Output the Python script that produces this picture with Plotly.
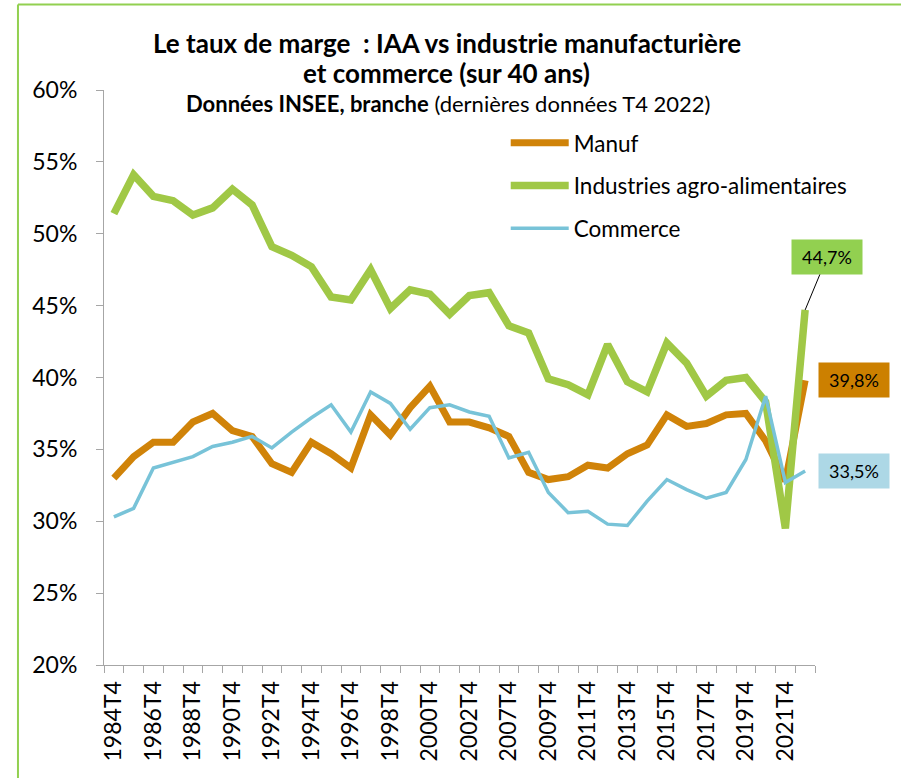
import plotly.graph_objects as go

# ---- data -------------------------------------------------------------
categories = [f"{y}T4" for y in range(1984, 2004)] + [f"{y}T4" for y in range(2007, 2023)]

manuf = [33.0, 34.5, 35.5, 35.5, 36.9, 37.5, 36.3, 35.9, 34.0, 33.4,
         35.5, 34.7, 33.7, 37.4, 36.0, 37.9, 39.4, 36.9, 36.9, 36.5,
         35.9, 33.4, 32.9, 33.1, 33.9, 33.7, 34.7, 35.3, 37.4, 36.6,
         36.8, 37.4, 37.5, 35.6, 32.8, 39.8]

iaa = [51.4, 54.1, 52.6, 52.3, 51.3, 51.8, 53.1, 52.0, 49.1, 48.5,
       47.7, 45.6, 45.4, 47.5, 44.8, 46.1, 45.8, 44.4, 45.7, 45.9,
       43.6, 43.1, 39.9, 39.5, 38.8, 42.3, 39.7, 39.0, 42.4, 41.0,
       38.7, 39.8, 40.0, 38.3, 29.5, 44.7]

commerce = [30.3, 30.9, 33.7, 34.1, 34.5, 35.2, 35.5, 35.9, 35.1, 36.2,
            37.2, 38.1, 36.2, 39.0, 38.2, 36.4, 37.9, 38.1, 37.6, 37.3,
            34.4, 34.8, 32.0, 30.6, 30.7, 29.8, 29.7, 31.4, 32.9, 32.2,
            31.6, 32.0, 34.3, 38.7, 32.7, 33.5]

tick_text = [c if i % 2 == 0 and i < 35 else "" for i, c in enumerate(categories)]

series_names = ["Manuf", "Industries agro-alimentaires", "Commerce"]
series_colors = ["#D08309", "#A0C846", "#78C3D8"]
label_bg = ["#CC8000", "#92D050", "#ADD8E6"]

FONT = "Lato, 'Open Sans', sans-serif"

# ---- figure -----------------------------------------------------------
fig = go.Figure()
widths = [7, 7.5, 3.5]
for name, vals, col, w in zip(series_names, [manuf, iaa, commerce], series_colors, widths):
    fig.add_trace(go.Scatter(
        x=categories, y=vals, name=name, mode="lines",
        line=dict(color=col, width=w), legendgroup=name,
    ))

def fmt(v):
    return f"{v:.1f}".replace(".", ",") + "%"

lab_font = dict(family=FONT, size=18, color="black")
# data labels for last values
fig.add_annotation(x=categories[-1], y=iaa[-1], text=fmt(iaa[-1]),
                   showarrow=True, arrowhead=0, arrowwidth=1, arrowcolor="black",
                   ax=22, ay=-53, bgcolor=label_bg[1], width=62, height=26, borderpad=4,
                   font=lab_font)
fig.add_annotation(x=categories[-1], y=manuf[-1], text=fmt(manuf[-1]),
                   showarrow=False, xshift=48.5, bgcolor=label_bg[0],
                   width=62, height=26, borderpad=4, font=lab_font)
fig.add_annotation(x=categories[-1], y=commerce[-1], text=fmt(commerce[-1]),
                   showarrow=False, xshift=48.5, bgcolor=label_bg[2],
                   width=62, height=26, borderpad=4, font=lab_font)

# titles
fig.add_annotation(xref="paper", yref="paper", x=0.4824, y=1.0817,
                   xanchor="center", yanchor="middle", showarrow=False,
                   text="<b>Le taux de marge \u00a0: IAA vs industrie manufacturière</b>",
                   font=dict(family=FONT, size=26, color="black"))
fig.add_annotation(xref="paper", yref="paper", x=0.4824, y=1.0296,
                   xanchor="center", yanchor="middle", showarrow=False,
                   text="<b>et commerce (sur 40 ans)</b>",
                   font=dict(family=FONT, size=26, color="black"))
fig.add_annotation(xref="paper", yref="paper", x=0.4838, y=0.9757,
                   xanchor="center", yanchor="middle", showarrow=False,
                   text="<b>Données INSEE, branche</b> (dernières données T4 2022)",
                   font=dict(family=FONT, size=22, color="black"))

# green frame (top + left)
fig.add_shape(type="line", xref="paper", yref="paper", x0=-0.121, x1=1.13, y0=1.1487, y1=1.1487,
              line=dict(color="#92D050", width=2))
fig.add_shape(type="line", xref="paper", yref="paper", x0=-0.121, x1=-0.121, y0=1.1487, y1=-0.21,
              line=dict(color="#92D050", width=2))

fig.update_layout(
    width=901, height=778,
    margin=dict(l=104, r=86, t=90, b=113),
    paper_bgcolor="white", plot_bgcolor="white",
    font=dict(family=FONT, color="black"),
    showlegend=True,
    legend=dict(x=0.565, y=0.945, xanchor="left", yanchor="top",
                font=dict(family=FONT, size=22.5, color="black"),
                itemwidth=58, tracegroupgap=10.5, bgcolor="rgba(0,0,0,0)"),
    xaxis=dict(type="category", categoryorder="array", categoryarray=categories,
               range=[-0.5, len(categories) - 0.5],
               tickmode="array", tickvals=categories, ticktext=tick_text,
               tickangle=-90, tickson="boundaries", ticks="outside", ticklen=7,
               tickcolor="#A6A6A6", showline=True, linecolor="#A6A6A6", linewidth=1,
               showgrid=False, zeroline=False, ticklabelstandoff=6,
               tickfont=dict(family=FONT, size=23, color="black")),
    yaxis=dict(range=[20, 60], dtick=5, tick0=20, ticksuffix="%",
               ticks="outside", ticklen=7, tickcolor="#A6A6A6",
               showline=True, linecolor="#A6A6A6", linewidth=1,
               showgrid=False, zeroline=False, ticklabelstandoff=14,
               tickfont=dict(family=FONT, size=23, color="black")),
)

fig.write_html("out.html", config={"displayModeBar": False},
               post_script="document.body.style.margin='0';")
